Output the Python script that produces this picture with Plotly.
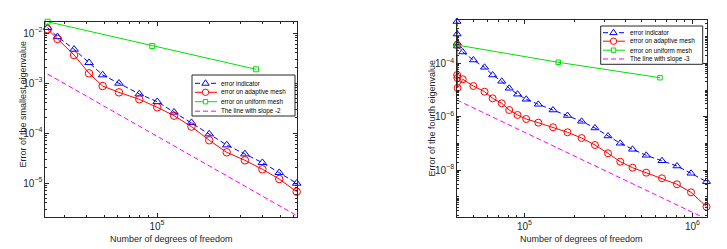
import plotly.graph_objects as go

W, H = 727, 249

# ---------------- data: left panel (smallest eigenvalue) ----------------
dof_L = [23900, 27200, 33800, 41100, 49100, 60800, 79300, 100300, 125000,
         157000, 198000, 249000, 316000, 397000, 495000, 622000]
ind_L = [1.28e-2, 8.4e-3, 4.72e-3, 2.55e-3, 1.45e-3, 9.86e-4, 6.03e-4, 4.23e-4,
         2.6e-4, 1.61e-4, 9.55e-5, 5.75e-5, 3.8e-5, 2.55e-5, 1.61e-5, 9.86e-6]
err_L = [1.19e-2, 7.6e-3, 3.63e-3, 1.56e-3, 8.7e-4, 6.5e-4, 4.72e-4, 3.27e-4,
         2.22e-4, 1.34e-4, 7.15e-5, 4.11e-5, 2.84e-5, 1.88e-5, 1.2e-5, 6.7e-6]
uni_dof_L = [23900, 94000, 365000]
uni_L = [1.68e-2, 5.5e-3, 1.88e-3]
slope_L = -2
slope_start_L = 1.51e-3

# ---------------- data: right panel (fourth eigenvalue) ----------------
dof_R = [39700, 39800, 39900, 40000, 42950, 49700, 57900, 64700, 73300, 81200,
         91000, 102500, 121000, 148000, 180500, 219000, 263000, 314500, 372000,
         440000, 531000, 659000, 809000, 981000, 1213000]
ind_R = [3.68e-3, 1.25e-3, 5.75e-4, 4.45e-4, 2.65e-4, 1.33e-4, 7.08e-5, 3.65e-5,
         2.12e-5, 1.16e-5, 6.97e-6, 4.49e-6, 2.91e-6, 1.78e-6, 1.11e-6, 6.73e-7,
         3.78e-7, 1.89e-7, 1.01e-7, 6.01e-8, 3.58e-8, 2.23e-8, 1.42e-8, 7.59e-9,
         3.68e-9]
err_R = [4.84e-4, 3.65e-5, 2.81e-5, 1.19e-5, 2.52e-5, 1.41e-5, 8.64e-6, 4.89e-6,
         3.18e-6, 1.78e-6, 1.16e-6, 8.2e-7, 5.96e-7, 4.01e-7, 2.61e-7, 1.59e-7,
         8.71e-8, 4.26e-8, 2.06e-8, 1.23e-8, 8.0e-9, 4.93e-9, 2.94e-9, 1.47e-9,
         4.26e-10]
uni_dof_R = [39700, 159000, 641000]
uni_R = [4.84e-4, 1.09e-4, 2.89e-5]
slope_R = -3
slope_start_R = 4.2e-6

names_L = ["error indicator", "error on adaptive mesh", "error on uniform mesh",
           "The line with slope -2"]
names_R = ["error indicator", "error on adaptive mesh", "error on uniform mesh",
           "The line with slope -3"]

BLUE, RED, GREEN, MAG = "#0000ff", "#ff0000", "#00e000", "#ff00ff"
AX = "#262626"
FONT = "Liberation Sans, Arial, sans-serif"


def slope_line(dof, start, s):
    x = [dof[0], dof[-1]]
    y = [start * (xx / dof[0]) ** s for xx in x]
    return x, y


fig = go.Figure()


def add_panel(xa, ya, dof, ind, err, udof, uni, s, s0, msz):
    fig.add_trace(go.Scatter(x=dof, y=ind, xaxis=xa, yaxis=ya, mode="lines+markers",
                             line=dict(color=BLUE, width=1, dash="5px,3px"),
                             marker=dict(symbol="triangle-up-open", size=msz,
                                         color=BLUE, line=dict(width=1)),
                             cliponaxis=False, showlegend=False))
    fig.add_trace(go.Scatter(x=dof, y=err, xaxis=xa, yaxis=ya, mode="lines+markers",
                             line=dict(color=RED, width=1),
                             marker=dict(symbol="circle-open", size=msz,
                                         color=RED, line=dict(width=1)),
                             cliponaxis=False, showlegend=False))
    fig.add_trace(go.Scatter(x=udof, y=uni, xaxis=xa, yaxis=ya, mode="lines+markers",
                             line=dict(color=GREEN, width=1),
                             marker=dict(symbol="square-open", size=msz - 2.5,
                                         color=GREEN, line=dict(width=1)),
                             cliponaxis=False, showlegend=False))
    sx, sy = slope_line(dof, s0, s)
    fig.add_trace(go.Scatter(x=sx, y=sy, xaxis=xa, yaxis=ya, mode="lines",
                             line=dict(color=MAG, width=1, dash="5px,3px"),
                             showlegend=False))


add_panel("x", "y", dof_L, ind_L, err_L, uni_dof_L, uni_L, slope_L, slope_start_L, 7.5)
add_panel("x2", "y2", dof_R, ind_R, err_R, uni_dof_R, uni_R, slope_R, slope_start_R, 7)


def px(x):
    return x / W


def py(y):
    return 1 - y / H


axis_common = dict(type="log", showgrid=False, zeroline=False, showline=True,
                   linecolor=AX, linewidth=1, mirror="ticks", ticks="inside",
                   ticklen=4, tickcolor=AX, tickwidth=1,
                   exponentformat="power",
                   tickfont=dict(family=FONT, size=8, color=AX),
                   minor=dict(ticks="inside", ticklen=2, tickcolor=AX, dtick="D1",
                              showgrid=False))

fig.update_layout(
    width=W, height=H, margin=dict(l=0, r=0, t=0, b=0),
    paper_bgcolor="white", plot_bgcolor="white", showlegend=False,
    xaxis=dict(axis_common, domain=[px(45), px(297)], range=[4.3636, 5.7955],
               dtick=1, anchor="y"),
    yaxis=dict(axis_common, domain=[py(217), py(21.7)], range=[-5.68, -1.774],
               dtick=1, anchor="x"),
    xaxis2=dict(axis_common, domain=[px(456.7), px(706.7)], range=[4.597, 6.085],
                dtick=1, anchor="y2"),
    yaxis2=dict(axis_common, domain=[py(217), py(20)], range=[-9.757, -2.378],
                dtick=2, tick0=0, anchor="x2"),
)

annotations = []
shapes = []


def label(x, y, text, angle=0, size=9):
    annotations.append(dict(x=px(x), y=py(y), xref="paper", yref="paper",
                            text=text, showarrow=False, textangle=angle,
                            font=dict(family=FONT, size=size, color=AX),
                            xanchor="center", yanchor="middle"))


label(171.7, 239, "Number of degrees of freedom")
label(22.5, 104, "Error of the smallest eigenvalue", angle=-90)
label(581, 239, "Number of degrees of freedom")
label(432, 118.5, "Error of the fourth eigenvalue", angle=-90)


def legend(box, rows, line_x, mark_x, text_x, names):
    x0, y0, x1, y1 = box
    shapes.append(dict(type="rect", xref="paper", yref="paper",
                       x0=px(x0), x1=px(x1), y0=py(y0), y1=py(y1),
                       line=dict(color=AX, width=1), fillcolor="white", layer="above"))
    specs = [(BLUE, "5px,3px", "tri"), (RED, "solid", "circ"),
             (GREEN, "solid", "sq"), (MAG, "5px,3px", None)]
    for (col, dash, mk), ry, nm in zip(specs, rows, names):
        shapes.append(dict(type="line", xref="paper", yref="paper",
                           x0=px(line_x[0]), x1=px(line_x[1]), y0=py(ry), y1=py(ry),
                           line=dict(color=col, width=1, dash=dash), layer="above"))
        r = 3.2
        if mk == "tri":
            path = "M {} {} L {} {} L {} {} Z".format(
                px(mark_x - r * 1.15), py(ry + r * 0.6), px(mark_x + r * 1.15),
                py(ry + r * 0.6), px(mark_x), py(ry - r * 1.1))
            shapes.append(dict(type="path", xref="paper", yref="paper", path=path,
                               line=dict(color=col, width=1), fillcolor="white",
                               layer="above"))
        elif mk == "circ":
            shapes.append(dict(type="circle", xref="paper", yref="paper",
                               x0=px(mark_x - r), x1=px(mark_x + r),
                               y0=py(ry + r), y1=py(ry - r),
                               line=dict(color=col, width=1), fillcolor="white",
                               layer="above"))
        elif mk == "sq":
            q = 2.2
            shapes.append(dict(type="rect", xref="paper", yref="paper",
                               x0=px(mark_x - q), x1=px(mark_x + q),
                               y0=py(ry + q), y1=py(ry - q),
                               line=dict(color=col, width=1), fillcolor="white",
                               layer="above"))
        annotations.append(dict(x=px(text_x), y=py(ry), xref="paper", yref="paper",
                                text=nm, showarrow=False, xanchor="left",
                                yanchor="middle",
                                font=dict(family=FONT, size=6.3, color="#000000")))


legend((192, 75, 295, 116), [83.3, 92.3, 101.7, 111.2], (195, 217), 205.5, 219.5,
       names_L)
legend((600.7, 26, 702.7, 64.3), [32.7, 41.2, 50.2, 59], (603, 625), 613.5, 627.5,
       names_R)

fig.update_layout(annotations=annotations, shapes=shapes)
fig.write_html("out.html",
               config={"displayModeBar": False},
               post_script="document.body.style.margin='0';"
                           "document.body.style.overflow='hidden';")
